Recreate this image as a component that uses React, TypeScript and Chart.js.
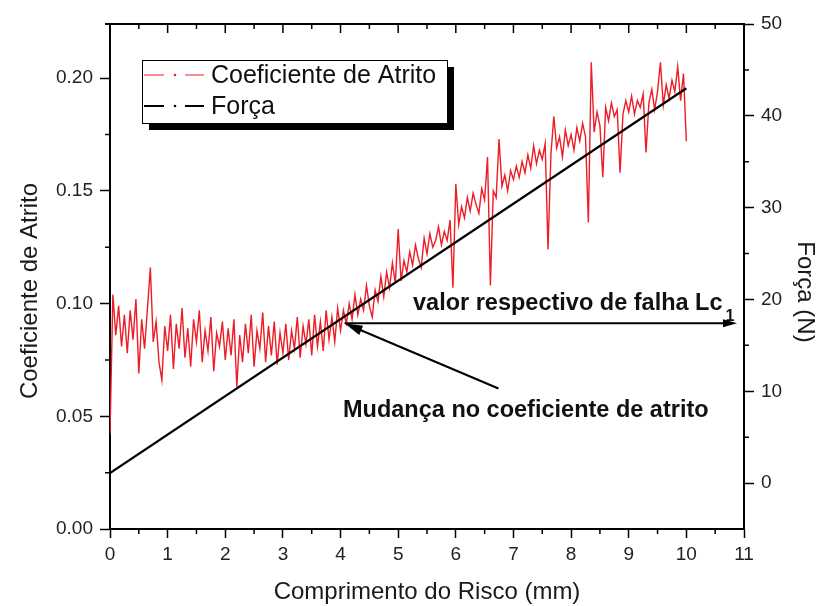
import React, { useEffect, useRef } from 'react';
import { Chart, registerables } from 'chart.js';

Chart.register(...registerables);

const FONT = '"Liberation Sans", Arial, Helvetica, sans-serif';

// Coeficiente de atrito, amostrado a cada 0,05 mm (0,00 mm … 10,00 mm)
const SAMPLE_STEP_MM = 0.05;
const coeficiente: number[] = [
  // 0,00 – 0,95 mm
  0.042, 0.104, 0.086, 0.099, 0.081, 0.095, 0.078, 0.097, 0.084, 0.102,
  0.069, 0.093, 0.080, 0.098, 0.116, 0.083, 0.092, 0.074, 0.066, 0.090,
  // 1,00 – 1,95 mm
  0.079, 0.095, 0.071, 0.091, 0.080, 0.098, 0.076, 0.089, 0.072, 0.093,
  0.083, 0.097, 0.074, 0.088, 0.079, 0.094, 0.070, 0.087, 0.081, 0.092,
  // 2,00 – 2,95 mm
  0.075, 0.089, 0.077, 0.093, 0.063, 0.086, 0.074, 0.091, 0.078, 0.095,
  0.072, 0.088, 0.080, 0.096, 0.074, 0.090, 0.077, 0.092, 0.073, 0.087,
  // 3,00 – 3,95 mm
  0.078, 0.091, 0.075, 0.088, 0.080, 0.094, 0.076, 0.090, 0.082, 0.093,
  0.077, 0.095, 0.081, 0.092, 0.079, 0.097, 0.084, 0.094, 0.083, 0.098,
  // 4,00 – 4,95 mm
  0.088, 0.097, 0.091, 0.100, 0.093, 0.104, 0.095, 0.102, 0.097, 0.108,
  0.099, 0.094, 0.106, 0.101, 0.112, 0.103, 0.114, 0.107, 0.118, 0.109,
  // 5,00 – 5,95 mm
  0.133, 0.110, 0.119, 0.114, 0.123, 0.117, 0.126, 0.120, 0.116, 0.129,
  0.122, 0.131, 0.125, 0.128, 0.134, 0.126, 0.132, 0.128, 0.137, 0.107,
  // 6,00 – 6,95 mm
  0.153, 0.135, 0.143, 0.138, 0.147, 0.141, 0.149, 0.144, 0.140, 0.151,
  0.146, 0.165, 0.108, 0.150, 0.147, 0.173, 0.152, 0.157, 0.150, 0.159,
  // 7,00 – 7,95 mm
  0.155, 0.161, 0.156, 0.163, 0.158, 0.166, 0.160, 0.170, 0.162, 0.168,
  0.164, 0.171, 0.124, 0.166, 0.183, 0.169, 0.174, 0.165, 0.177, 0.170,
  // 8,00 – 8,95 mm
  0.175, 0.168, 0.178, 0.172, 0.180, 0.174, 0.136, 0.207, 0.176, 0.185,
  0.179, 0.156, 0.187, 0.181, 0.189, 0.183, 0.186, 0.158, 0.184, 0.190,
  // 9,00 – 9,95 mm
  0.185, 0.192, 0.184, 0.190, 0.187, 0.193, 0.167, 0.189, 0.195, 0.186,
  0.194, 0.207, 0.188, 0.197, 0.191, 0.199, 0.194, 0.205, 0.190, 0.202,
  // 10,00 mm
  0.172,
];
const distanciaMm: number[] = coeficiente.map((_, i) => Math.round(i * SAMPLE_STEP_MM * 100) / 100);

// Carga aplicada (rampa linear)
const forcaDistanciaMm = [0, 10];
const forcaN = [1.1, 43.0];

// Ponto de falha Lc1 e origem da seta da mudança no coeficiente
const lc1DistanciaMm = 4.07;
const lc1ForcaN = 17.4;
const setaOrigemMm = 6.74;
const setaOrigemN = 10.3;

// Marcas dos eixos
const xTicks = [0, 1, 2, 3, 4, 5, 6, 7, 8, 9, 10, 11];
const xMinorTicks = [0.5, 1.5, 2.5, 3.5, 4.5, 5.5, 6.5, 7.5, 8.5, 9.5, 10.5];
const yTicks = [0, 0.05, 0.1, 0.15, 0.2];
const yMinorTicks = [0.025, 0.075, 0.125, 0.175];
const y2Ticks = [0, 10, 20, 30, 40, 50];
const y2MinorTicks = [5, 15, 25, 35, 45];

const legendEntries = [
  { label: 'Coeficiente de Atrito', color: '#ee1c25', width: 1.2 },
  { label: 'Força', color: '#000000', width: 2 },
];

function arrowHead(ctx: CanvasRenderingContext2D, x1: number, y1: number, x2: number, y2: number, len: number, half: number) {
  const ang = Math.atan2(y2 - y1, x2 - x1);
  ctx.beginPath();
  ctx.moveTo(x2, y2);
  ctx.lineTo(x2 - len * Math.cos(ang) + half * Math.sin(ang), y2 - len * Math.sin(ang) - half * Math.cos(ang));
  ctx.lineTo(x2 - len * Math.cos(ang) - half * Math.sin(ang), y2 - len * Math.sin(ang) + half * Math.cos(ang));
  ctx.closePath();
  ctx.fill();
}

const decorations = {
  id: 'decorations',
  afterDraw(chart: any) {
    const { ctx, chartArea: a, scales } = chart;
    const sx = scales.x;
    const sy = scales.y;
    const sy2 = scales.y2;
    ctx.save();

    // moldura superior e marcas secundárias
    ctx.strokeStyle = '#000';
    ctx.lineWidth = 2;
    ctx.beginPath();
    ctx.moveTo(a.left - 5, a.top);
    ctx.lineTo(a.right + 1, a.top);
    ctx.stroke();

    ctx.lineWidth = 1.5;
    ctx.beginPath();
    for (const v of xTicks) {
      const px = sx.getPixelForValue(v);
      ctx.moveTo(px, a.top);
      ctx.lineTo(px, a.top + 9);
    }
    for (const v of xMinorTicks) {
      const px = sx.getPixelForValue(v);
      ctx.moveTo(px, a.top);
      ctx.lineTo(px, a.top + 5);
      ctx.moveTo(px, a.bottom);
      ctx.lineTo(px, a.bottom + 5);
    }
    for (const v of yMinorTicks) {
      const py = sy.getPixelForValue(v);
      ctx.moveTo(a.left - 5, py);
      ctx.lineTo(a.left, py);
    }
    for (const v of y2MinorTicks) {
      const py = sy2.getPixelForValue(v);
      ctx.moveTo(a.right, py);
      ctx.lineTo(a.right + 5, py);
    }
    ctx.stroke();

    // títulos dos eixos
    ctx.fillStyle = '#1a1a1a';
    ctx.font = `24px ${FONT}`;
    ctx.textAlign = 'center';
    ctx.textBaseline = 'middle';
    ctx.fillText('Comprimento do Risco (mm)', (a.left + a.right) / 2, 592);
    ctx.save();
    ctx.translate(30, 291);
    ctx.rotate(-Math.PI / 2);
    ctx.fillText('Coeficiente de Atrito', 0, 0);
    ctx.restore();
    ctx.save();
    ctx.translate(805, 292);
    ctx.rotate(Math.PI / 2);
    ctx.fillText('Força (N)', 0, 0);
    ctx.restore();

    // setas e anotações
    const px = sx.getPixelForValue(lc1DistanciaMm);
    const py = sy2.getPixelForValue(lc1ForcaN);
    const endX = sx.getPixelForValue(11) - 7;
    ctx.strokeStyle = '#000';
    ctx.fillStyle = '#000';
    ctx.lineWidth = 2;
    ctx.beginPath();
    ctx.moveTo(px, py);
    ctx.lineTo(endX - 6, py);
    ctx.stroke();
    arrowHead(ctx, px, py, endX, py, 14, 4);

    const tx = sx.getPixelForValue(setaOrigemMm);
    const ty = sy2.getPixelForValue(setaOrigemN);
    const ang = Math.atan2(py - ty, px - tx);
    ctx.beginPath();
    ctx.moveTo(tx, ty);
    ctx.lineTo(px - 12 * Math.cos(ang), py - 12 * Math.sin(ang));
    ctx.stroke();
    arrowHead(ctx, tx, ty, px, py, 18, 5);

    ctx.fillStyle = '#111';
    ctx.textAlign = 'left';
    ctx.textBaseline = 'alphabetic';
    ctx.font = `bold 23.5px ${FONT}`;
    const lcText = 'valor respectivo de falha Lc';
    ctx.fillText(lcText, 413, py - 13);
    const lcW = ctx.measureText(lcText).width;
    ctx.font = `bold 16px ${FONT}`;
    ctx.fillText('1', 413 + lcW + 3, py - 2);
    ctx.font = `bold 23.5px ${FONT}`;
    ctx.fillText('Mudança no coeficiente de atrito', 343, 417);

    // legenda com sombra
    const bx = 142, by = 60, bw = 305, bh = 63;
    ctx.fillStyle = '#000';
    ctx.fillRect(bx + 7, by + 7, bw, bh);
    ctx.fillStyle = '#fff';
    ctx.fillRect(bx, by, bw, bh);
    ctx.strokeStyle = '#000';
    ctx.lineWidth = 1;
    ctx.strokeRect(bx + 0.5, by + 0.5, bw, bh);

    legendEntries.forEach((e, i) => {
      const ly = 75 + i * 31;
      ctx.strokeStyle = e.color;
      ctx.fillStyle = e.color;
      ctx.lineWidth = e.width;
      ctx.beginPath();
      ctx.moveTo(144, ly);
      ctx.lineTo(164, ly);
      ctx.moveTo(185, ly);
      ctx.lineTo(204, ly);
      ctx.stroke();
      ctx.beginPath();
      ctx.arc(175, ly, 1.3, 0, Math.PI * 2);
      ctx.fill();
      ctx.fillStyle = '#111';
      ctx.font = `25px ${FONT}`;
      ctx.textBaseline = 'middle';
      ctx.fillText(e.label, 211, ly + 1);
    });

    ctx.restore();
  },
};

export default function App() {
  const canvasRef = useRef<HTMLCanvasElement | null>(null);

  useEffect(() => {
    const canvas = canvasRef.current;
    if (!canvas) return;
    const tickFont = { family: FONT, size: 19 };
    const chart = new Chart(canvas, {
      type: 'line',
      data: {
        datasets: [
          {
            label: 'Força',
            data: forcaDistanciaMm.map((x, i) => ({ x, y: forcaN[i] })),
            yAxisID: 'y2',
            borderColor: '#000',
            borderWidth: 2.2,
            pointRadius: 0,
            tension: 0,
            order: 0,
          },
          {
            label: 'Coeficiente de Atrito',
            data: distanciaMm.map((x, i) => ({ x, y: coeficiente[i] })),
            yAxisID: 'y',
            borderColor: '#ee1c25',
            borderWidth: 1.4,
            pointRadius: 0,
            tension: 0,
            order: 1,
          },
        ],
      },
      options: {
        responsive: false,
        animation: false,
        devicePixelRatio: 1,
        layout: { padding: { top: 24, left: 0, right: 0, bottom: 0 } },
        plugins: {
          legend: { display: false },
          tooltip: { enabled: false },
        },
        scales: {
          x: {
            type: 'linear',
            position: 'bottom',
            min: 0,
            max: 11,
            afterBuildTicks: (s: any) => {
              s.ticks = xTicks.map((v) => ({ value: v }));
            },
            afterFit: (s: any) => {
              s.height = 77;
            },
            ticks: {
              font: tickFont,
              color: '#222',
              padding: 5,
              maxRotation: 0,
              autoSkip: false,
              callback: (v: any) => String(v),
            },
            grid: { drawOnChartArea: false, drawTicks: true, tickLength: 9, tickColor: '#000', tickWidth: 1.5 },
            border: { display: true, color: '#000', width: 2 },
          },
          y: {
            type: 'linear',
            position: 'left',
            min: 0,
            max: 0.224,
            afterBuildTicks: (s: any) => {
              s.ticks = yTicks.map((v) => ({ value: v }));
            },
            afterFit: (s: any) => {
              s.width = 110;
            },
            ticks: {
              font: tickFont,
              color: '#222',
              padding: 7,
              callback: (v: any) => Number(v).toFixed(2),
            },
            grid: { drawOnChartArea: false, drawTicks: true, tickLength: 10, tickColor: '#000', tickWidth: 1.5 },
            border: { display: true, color: '#000', width: 2 },
          },
          y2: {
            type: 'linear',
            position: 'right',
            min: -5,
            max: 50,
            afterBuildTicks: (s: any) => {
              s.ticks = y2Ticks.map((v) => ({ value: v }));
            },
            afterFit: (s: any) => {
              s.width = 76;
            },
            ticks: {
              font: tickFont,
              color: '#222',
              padding: 7,
              callback: (v: any) => String(v),
            },
            grid: { drawOnChartArea: false, drawTicks: true, tickLength: 10, tickColor: '#000', tickWidth: 1.5 },
            border: { display: true, color: '#000', width: 2 },
          },
        },
      },
      plugins: [decorations],
    } as any);
    return () => chart.destroy();
  }, []);

  return (
    <div style={{ position: 'absolute', left: 0, top: 0, width: 820, height: 606, background: '#fff' }}>
      <canvas ref={canvasRef} width={820} height={606} style={{ display: 'block' }} />
    </div>
  );
}
